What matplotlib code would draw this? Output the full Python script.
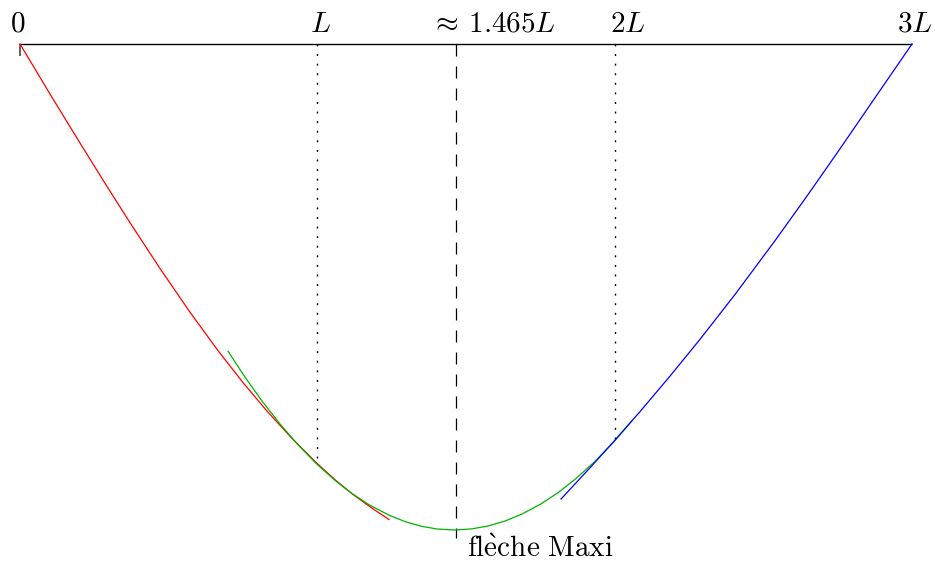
import numpy as np
import matplotlib
matplotlib.use("Agg")
import matplotlib.pyplot as plt

plt.rcParams['mathtext.fontset'] = 'cm'

# x in units of L, deflection normalised to the maximum deflection (flèche maxi = 1)
x_red = [0.0, 0.1009, 0.1850, 0.2792, 0.3700, 0.4709, 0.5718, 0.6659, 0.7500, 0.8307,
         0.9148, 0.9989, 1.0594, 1.1200, 1.1805, 1.2411]
d_red = [0.0, 0.1029, 0.1870, 0.2800, 0.3677, 0.4619, 0.5519, 0.6309, 0.6967, 0.7553,
         0.8115, 0.8628, 0.8965, 0.9270, 0.9537, 0.9784]

x_green = [0.6996, 0.7567, 0.8139, 0.8745, 0.9350, 0.9989, 1.0594, 1.1166, 1.1772, 1.2411,
           1.2949, 1.3487, 1.4025, 1.4597, 1.5168, 1.5740, 1.6312, 1.6884, 1.7489, 1.8095,
           1.8700, 1.9339, 1.9978, 2.0583]
d_green = [0.6321, 0.6854, 0.7346, 0.7819, 0.8247, 0.8648, 0.8979, 0.9251, 0.9492, 0.9695,
           0.9827, 0.9922, 0.9979, 1.0, 0.9979, 0.9918, 0.9815, 0.9671, 0.9475, 0.9233,
           0.8942, 0.8588, 0.8183, 0.7751]

x_blue = [1.8196, 1.9171, 1.9978, 2.0853, 2.1862, 2.2871, 2.4048, 2.5393, 2.6503, 2.7579,
          2.8790, 3.0]
d_blue = [0.9362, 0.8720, 0.8173, 0.7564, 0.6833, 0.6076, 0.5154, 0.4047, 0.3099, 0.2156,
          0.1076, 0.0]

tick_labels = [r'$0$', r'$L$', r'$\approx\:1.465L$', r'$2L$', r'$3L$']
label_x = [-0.008, 1.012, 1.589, 2.043, 3.010]
x_max = 1.465
note = r'$\mathrm{fl\grave{e}che\ Maxi}$'

fig = plt.figure(figsize=(9.35, 5.64), dpi=100)
ax = fig.add_axes([0, 0, 1, 1])
ax.axis('off')
ax.set_xlim(-20 / 297.33, 915 / 297.33)
ax.set_ylim(-520 / 486, 44 / 486)

# beam
ax.plot([0, 3], [0, 0], color='black', lw=1.0, solid_capstyle='butt')
ax.plot([0, 0], [0, -0.0247], color='#555555', lw=1.3, solid_capstyle='butt')

# vertical guides
y_L = -np.interp(1.0, x_red, d_red)
y_2L = -np.interp(2.0, x_blue, d_blue)
ax.plot([1.0, 1.0], [0, y_L], color='black', lw=1.0, linestyle=(0, (1.4, 5.5)))
ax.plot([2.0, 2.0], [0, y_2L], color='black', lw=1.0, linestyle=(0, (1.4, 5.5)))
ax.plot([x_max, x_max], [0, -1.0165], color='black', lw=0.9, linestyle=(0, (9.6, 8.0)))

# deflection curves
ax.plot(x_red, -np.array(d_red), color='#ff0000', lw=0.9)
ax.plot(x_green, -np.array(d_green), color='#00b400', lw=0.9)
ax.plot(x_blue, -np.array(d_blue), color='#0000ff', lw=0.9)

for lx, lab in zip(label_x, tick_labels):
    ax.text(lx, 0.0247, lab, ha='center', va='baseline', fontsize=21)

ax.text(1.5034, -1.0556, note, ha='left', va='baseline', fontsize=21)

fig.savefig('out.png', dpi=100)
